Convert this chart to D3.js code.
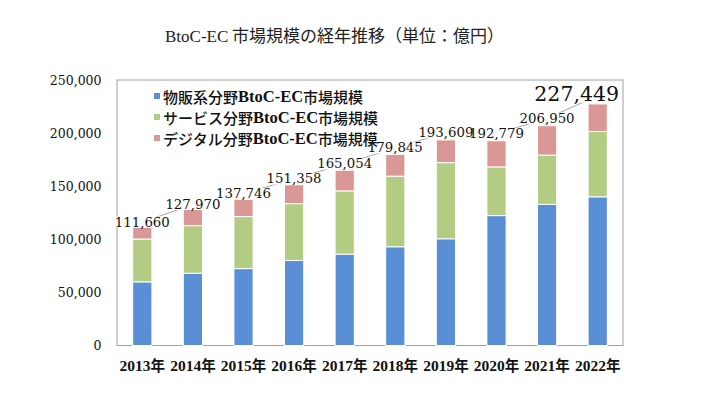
<!DOCTYPE html>
<html><head><meta charset="utf-8">
<script src="https://cdn.jsdelivr.net/npm/d3@7/dist/d3.min.js"></script>
<style>
html,body{margin:0;padding:0;background:#fff;}
svg{display:block;}
</style></head>
<body><svg id="chart" width="710" height="415"></svg>
<script>
const years = ["2013","2014","2015","2016","2017","2018","2019","2020","2021","2022"];
const buppan = [59931,68043,72398,80043,86008,92992,100515,122333,132865,139997];
const service = [40350,44816,49014,53532,59568,66471,71672,45832,46424,61477];
const digital = [11379,15111,16334,17782,19478,20382,21422,24614,27661,25974];
const totals = [111660,127970,137746,151358,165054,179845,193609,192779,206950,227449];
const seriesPrefix = ["物販系分野","サービス分野","デジタル分野"];
const seriesMid = "BtoC-EC";
const seriesSuffix = "市場規模";
const yTicks = [0,50000,100000,150000,200000,250000];
const titleText = ["BtoC-EC"," 市場規模の経年推移（単位：億円）"];
const yearSuffix = "年";

const colors = ["#5A8FD5","#B3CC84","#D99795"];
const serif = "'DejaVu Serif', serif";
const lserif = "'Liberation Serif', serif";
const cjk = "'Noto Sans CJK JP', sans-serif";

const svg = d3.select("#chart");
const L = 117, R = 623, T = 80, B = 345.5;

const x = d3.scaleBand().domain(years).range([L, R]).paddingInner(0.62).paddingOuter(0.31);
const y = d3.scaleLinear().domain([0, 250000]).range([B, T]);
const yLine = d3.scaleLinear().domain([0, 242000]).range([B - 1.5, T]);

// title
const title = svg.append("text").attr("x", 165).attr("y", 42).attr("font-size", 17).attr("fill", "#222");
title.append("tspan").attr("font-family", lserif).text(titleText[0]);
title.append("tspan").attr("font-family", cjk).text(titleText[1]);

// frame
svg.append("rect").attr("x", L).attr("y", T).attr("width", R - L).attr("height", B - T)
  .attr("fill", "none").attr("stroke", "#A0A0A0").attr("stroke-width", 1);

// y axis labels
const yAxis = d3.axisLeft(y).tickValues(yTicks).tickSize(0).tickPadding(0).tickFormat(d3.format(","));
const gy = svg.append("g").attr("transform", `translate(${101.5},0)`).call(yAxis);
gy.select(".domain").remove();
gy.selectAll("text").attr("font-family", serif).attr("font-size", 12.5).attr("fill", "#111");

// stacked bars
const rows = years.map((yr, i) => ({year: yr, a: buppan[i], b: service[i], c: digital[i]}));
const stack = d3.stack().keys(["a","b","c"])(rows);
svg.append("g").selectAll("g").data(stack).join("g").attr("fill", (d, i) => colors[i])
  .selectAll("rect").data(d => d).join("rect")
  .attr("x", d => x(d.data.year))
  .attr("width", x.bandwidth())
  .attr("y", d => y(d[1]))
  .attr("height", d => y(d[0]) - y(d[1]))
  .attr("stroke", "#fff").attr("stroke-width", 1);

// total line
const line = d3.line().x((d, i) => x(years[i]) + x.bandwidth() / 2).y(d => yLine(d));
svg.append("path").attr("d", line(totals)).attr("fill", "none").attr("stroke", "#A6A6A6").attr("stroke-width", 1);

// total labels
const fmt = d3.format(",");
const last = totals.length - 1;
const labX = i => x(years[i]) + x.bandwidth() / 2 - (i === last ? 21 : 0);
const labFs = i => (i === last ? 20.5 : 13.3);
const bgG = svg.append("g");
const txG = svg.append("g");
totals.forEach((d, i) => {
  const fs = labFs(i);
  const cx = labX(i);
  const cy = yLine(d) - (i === last ? 2 : 0);
  const t = txG.append("text").attr("x", cx).attr("y", cy).attr("text-anchor", "middle")
    .attr("dominant-baseline", "central").attr("font-family", serif).attr("font-size", fs)
    .attr("fill", "#111").text(fmt(d));
  const bb = t.node().getBBox();
  bgG.append("rect").attr("x", bb.x).attr("y", cy - fs * 0.42).attr("width", bb.width)
    .attr("height", fs * 0.84).attr("fill", "#fff");
});

// x labels
const xl = svg.append("g").selectAll("text").data(years).join("text")
  .attr("x", d => x(d) + x.bandwidth() / 2).attr("y", 370.5).attr("text-anchor", "middle").attr("fill", "#111");
xl.append("tspan").attr("font-family", lserif).attr("font-weight", "bold").attr("font-size", 15.5).text(d => d);
xl.append("tspan").attr("font-family", cjk).attr("font-weight", "bold").attr("font-size", 14.5).text(yearSuffix);

// legend
const lg = svg.append("g").selectAll("g").data(seriesPrefix).join("g")
  .attr("transform", (d, i) => `translate(154,${96 + i * 21})`);
lg.append("rect").attr("x", 0).attr("y", -3).attr("width", 6).attr("height", 6).attr("fill", (d, i) => colors[i]);
const lt = lg.append("text").attr("x", 9).attr("y", 0).attr("dominant-baseline", "central").attr("fill", "#111");
lt.append("tspan").attr("font-family", cjk).attr("font-size", 15).attr("font-weight", 500).text(d => d);
lt.append("tspan").attr("font-family", lserif).attr("font-size", 16.5).attr("font-weight", "bold").text(seriesMid);
lt.append("tspan").attr("font-family", cjk).attr("font-size", 15).attr("font-weight", 500).text(seriesSuffix);
</script></body></html>
